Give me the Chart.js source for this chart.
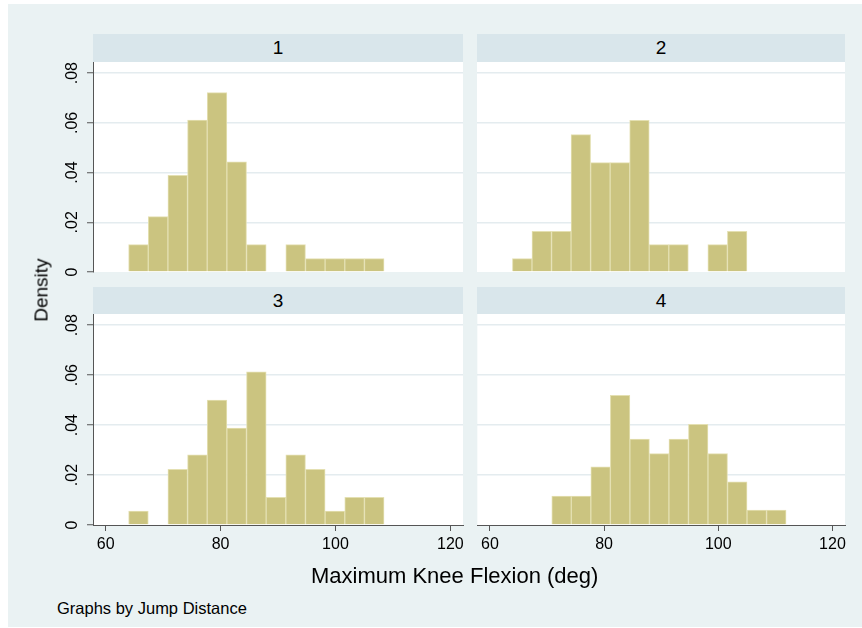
<!DOCTYPE html>
<html><head><meta charset="utf-8">
<script src="https://cdn.jsdelivr.net/npm/chart.js@4.4.0/dist/chart.umd.min.js"></script>
<style>
html,body{margin:0;padding:0;background:#fff;}
#wrap{position:relative;width:862px;height:628px;overflow:hidden;font-family:"Liberation Sans",Arial,Helvetica,sans-serif;}
#bg{position:absolute;left:8px;top:4px;width:854px;height:623px;background:#eaf2f3;}
.strip{position:absolute;background:#d9e6eb;color:#000;font-size:19px;display:flex;align-items:center;justify-content:center;}
canvas{position:absolute;}
.txt{position:absolute;color:#000;white-space:nowrap;line-height:1;}
</style></head>
<body>
<div id="wrap">
  <div id="bg"></div>
  <div class="strip" id="s1" style="left:93px;top:34px;width:370px;height:28px;"></div>
  <div class="strip" id="s2" style="left:477px;top:34px;width:368px;height:28px;"></div>
  <div class="strip" id="s3" style="left:93px;top:287px;width:370px;height:27px;"></div>
  <div class="strip" id="s4" style="left:477px;top:287px;width:368px;height:27px;"></div>
  <canvas id="c1" width="413" height="238" style="left:50px;top:48px;"></canvas>
  <canvas id="c2" width="368" height="238" style="left:477px;top:48px;"></canvas>
  <canvas id="c3" width="423" height="265" style="left:50px;top:300px;"></canvas>
  <canvas id="c4" width="378" height="265" style="left:477px;top:300px;"></canvas>
  <div class="txt" id="ytitle" style="left:41px;top:290px;font-size:19px;transform:translate(-50%,-50%) rotate(-90deg);"></div>
  <div class="txt" id="xtitle" style="left:311px;top:565px;font-size:22px;"></div>
  <div class="txt" id="note" style="left:57px;top:600px;font-size:16.5px;"></div>
</div>
<script>
// ---- data ----
const groupLabels = ['1', '2', '3', '4'];
const binEdges = [64.0, 67.42, 70.84, 74.26, 77.68, 81.10, 84.52, 87.94, 91.36, 94.78, 98.20, 101.62, 105.04, 108.46];
const binWidth = 3.42;
const density1 = [0.011, 0.0223, 0.0389, 0.0611, 0.0722, 0.0443, 0.011, null, 0.011, 0.0054, 0.0054, 0.0054, 0.0054, null];
const density2 = [0.0054, 0.0164, 0.0164, 0.0553, 0.044, 0.044, 0.061, 0.011, 0.011, null, 0.011, 0.0164, null, null];
const density3 = [0.0056, null, 0.0223, 0.0281, 0.05, 0.0388, 0.0613, 0.0111, 0.0281, 0.0223, 0.0056, 0.0111, 0.0111, null];
const density4 = [null, null, 0.0116, 0.0116, 0.0233, 0.0519, 0.0344, 0.0286, 0.0344, 0.0403, 0.0286, 0.0173, 0.006, 0.006];
const xTicks = [60, 80, 100, 120];
const xTickLabels = ['60', '80', '100', '120'];
const yTicks = [0, 0.02, 0.04, 0.06, 0.08];
const yTickLabels = ['0', '.02', '.04', '.06', '.08'];
const xTitle = 'Maximum Knee Flexion (deg)';
const yTitle = 'Density';
const note = 'Graphs by Jump Distance';

// ---- text ----
['s1','s2','s3','s4'].forEach((id, i) => document.getElementById(id).textContent = groupLabels[i]);
document.getElementById('xtitle').textContent = xTitle;
document.getElementById('ytitle').textContent = yTitle;
document.getElementById('note').textContent = note;

// ---- styles ----
const FONT = '"Liberation Sans", Arial, Helvetica, sans-serif';
const AXIS = '#555555';
const GRID = '#e4ecef';
const BAR_FILL = 'rgb(203,196,128)';
const BAR_LINE = 'rgb(228,224,178)';

const plotBg = {
  id: 'plotBg',
  beforeDraw(chart) {
    const a = chart.chartArea, ctx = chart.ctx;
    ctx.save(); ctx.fillStyle = '#ffffff';
    ctx.fillRect(a.left, a.top, a.right - a.left, a.bottom - a.top);
    ctx.restore();
  }
};

function makeChart(id, dens, showY, showX) {
  const pts = dens.map((d, i) => ({ x: binEdges[i] + binWidth / 2, y: d }));
  return new Chart(document.getElementById(id), {
    type: 'bar',
    data: { datasets: [{ data: pts, backgroundColor: BAR_FILL, borderColor: BAR_LINE, borderWidth: 1, barPercentage: 1, categoryPercentage: 1 }] },
    options: {
      responsive: false, animation: false, devicePixelRatio: 1,
      layout: { padding: { top: 14, bottom: showX ? 0 : 14, right: showX ? 10 : 0, left: 0 } },
      plugins: { legend: { display: false }, tooltip: { enabled: false }, title: { display: false } },
      scales: {
        x: {
          type: 'linear', min: 57.8, max: 122.2, offset: false,
          display: showX,
          afterBuildTicks: s => { s.ticks = xTicks.map(v => ({ value: v })); },
          afterFit: s => { s.height = showX ? 40 : 0; },
          border: { display: true, color: AXIS, width: 1 },
          grid: { offset: false, drawOnChartArea: false, drawTicks: true, tickLength: 6, tickColor: AXIS, tickWidth: 1 },
          ticks: { color: '#000', padding: 4, maxRotation: 0, minRotation: 0, font: { family: FONT, size: 16 },
                   callback: (v, i) => xTickLabels[i] }
        },
        y: {
          type: 'linear', min: 0, max: 0.0845,
          afterBuildTicks: s => { s.ticks = yTicks.map(v => ({ value: v })); },
          afterFit: s => { s.width = showY ? 43 : 0; },
          border: { display: showY, color: AXIS, width: 1 },
          grid: { color: c => (c.tick && c.tick.value === 0) ? 'rgba(0,0,0,0)' : GRID, lineWidth: 1.5,
                  drawTicks: showY, tickLength: 6, tickColor: AXIS, tickWidth: 1 },
          ticks: { display: showY, color: '#000', minRotation: 90, maxRotation: 90, crossAlign: 'center', padding: 3,
                   font: { family: FONT, size: 16 }, callback: (v, i) => yTickLabels[i] }
        }
      }
    },
    plugins: [plotBg]
  });
}

makeChart('c1', density1, true, false);
makeChart('c2', density2, false, false);
makeChart('c3', density3, true, true);
makeChart('c4', density4, false, true);
</script>
</body></html>
